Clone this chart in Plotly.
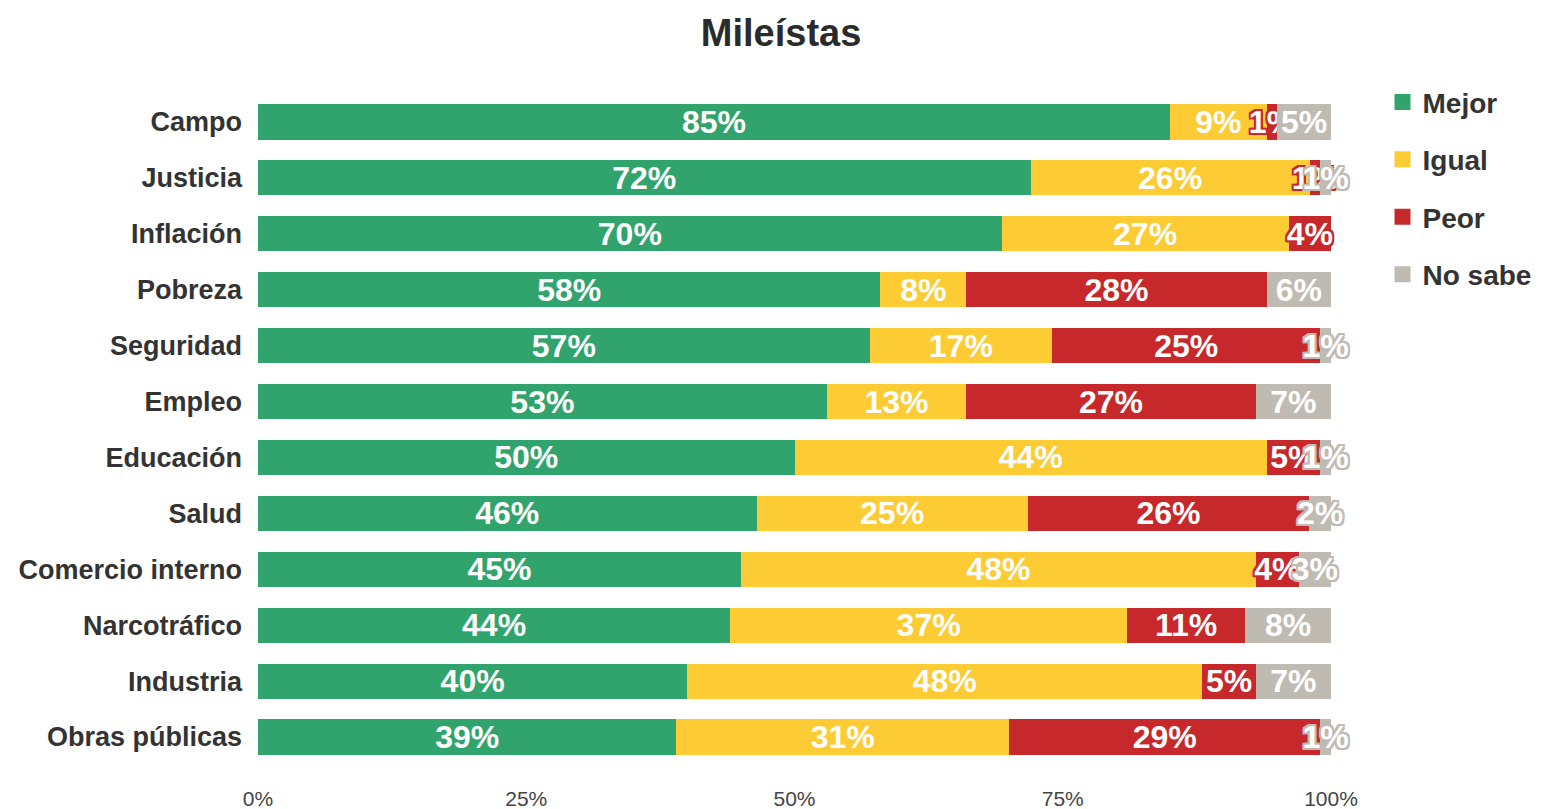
import plotly.graph_objects as go

categories = ["Campo", "Justicia", "Inflación", "Pobreza", "Seguridad", "Empleo",
              "Educación", "Salud", "Comercio interno", "Narcotráfico", "Industria",
              "Obras públicas"]
mejor = [85, 72, 70, 58, 57, 53, 50, 46, 45, 44, 40, 39]
igual = [9, 26, 27, 8, 17, 13, 44, 25, 48, 37, 48, 31]
peor = [1, 1, 4, 28, 25, 27, 5, 26, 4, 11, 5, 29]
no_sabe = [5, 1, 0, 6, 1, 7, 1, 2, 3, 8, 7, 1]
tick_vals = [0, 25, 50, 75, 100]
tick_text = ["0%", "25%", "50%", "75%", "100%"]

series = [
    ("Mejor", mejor, "#30A46C"),
    ("Igual", igual, "#FDCB33"),
    ("Peor", peor, "#C6282B"),
    ("No sabe", no_sabe, "#BFBAB2"),
]

def outline(c):
    return ",".join(f"{dx}px {dy}px 0 {c}" for dx in (-2, 0, 2) for dy in (-2, 0, 2) if dx or dy)

fig = go.Figure()
for i, (name, vals, color) in enumerate(series):
    fig.add_trace(go.Bar(
        name=name, y=categories, x=vals, orientation="h",
        marker=dict(color=color, line=dict(width=0)),
        text=vals, texttemplate="%{text}%", textposition="inside", textangle=0,
        insidetextanchor="middle", constraintext="none",
        textfont=dict(family="Liberation Sans, Arial", size=32, color="white",
                      weight="bold", shadow=outline(color)),
        legendgroup=name, showlegend=False, cliponaxis=False,
    ))
for name, vals, color in series:
    # legend-only swatch with a larger square marker
    fig.add_trace(go.Scatter(
        name=name, x=[None], y=[None], mode="markers",
        marker=dict(symbol="square", size=22, color=color),
        legendgroup=name, showlegend=True, hoverinfo="skip",
    ))

fig.update_layout(
    barmode="stack", barnorm="percent", bargap=0.37,
    width=1540, height=801,
    margin=dict(l=250, r=214, t=86, b=44),
    plot_bgcolor="white", paper_bgcolor="white",
    uniformtext=dict(minsize=32, mode="show"),
    title=dict(text="<b>Mileístas</b>", x=0.502, xanchor="center", y=0.969, yanchor="middle",
               font=dict(family="Liberation Sans, Arial", size=38, color="#2b2b2b")),
    xaxis=dict(range=[0, 100], tickvals=tick_vals, ticktext=tick_text, showgrid=False,
               zeroline=False, showline=False, ticks="", ticklabelstandoff=19, automargin=False,
               tickfont=dict(family="Liberation Sans, Arial", size=21, color="#444")),
    yaxis=dict(categoryorder="array", categoryarray=categories, autorange="reversed",
               showgrid=False, zeroline=False, ticks="", ticklabelstandoff=15, automargin=False,
               tickfont=dict(family="Liberation Sans, Arial", size=27, color="#333", weight="bold")),
    legend=dict(x=1.048, xanchor="left", y=1.025, yanchor="top", tracegroupgap=18,
                font=dict(family="Liberation Sans, Arial", size=28, color="#333", weight="bold"),
                itemsizing="trace"),
)

fig.write_html("out.html")
